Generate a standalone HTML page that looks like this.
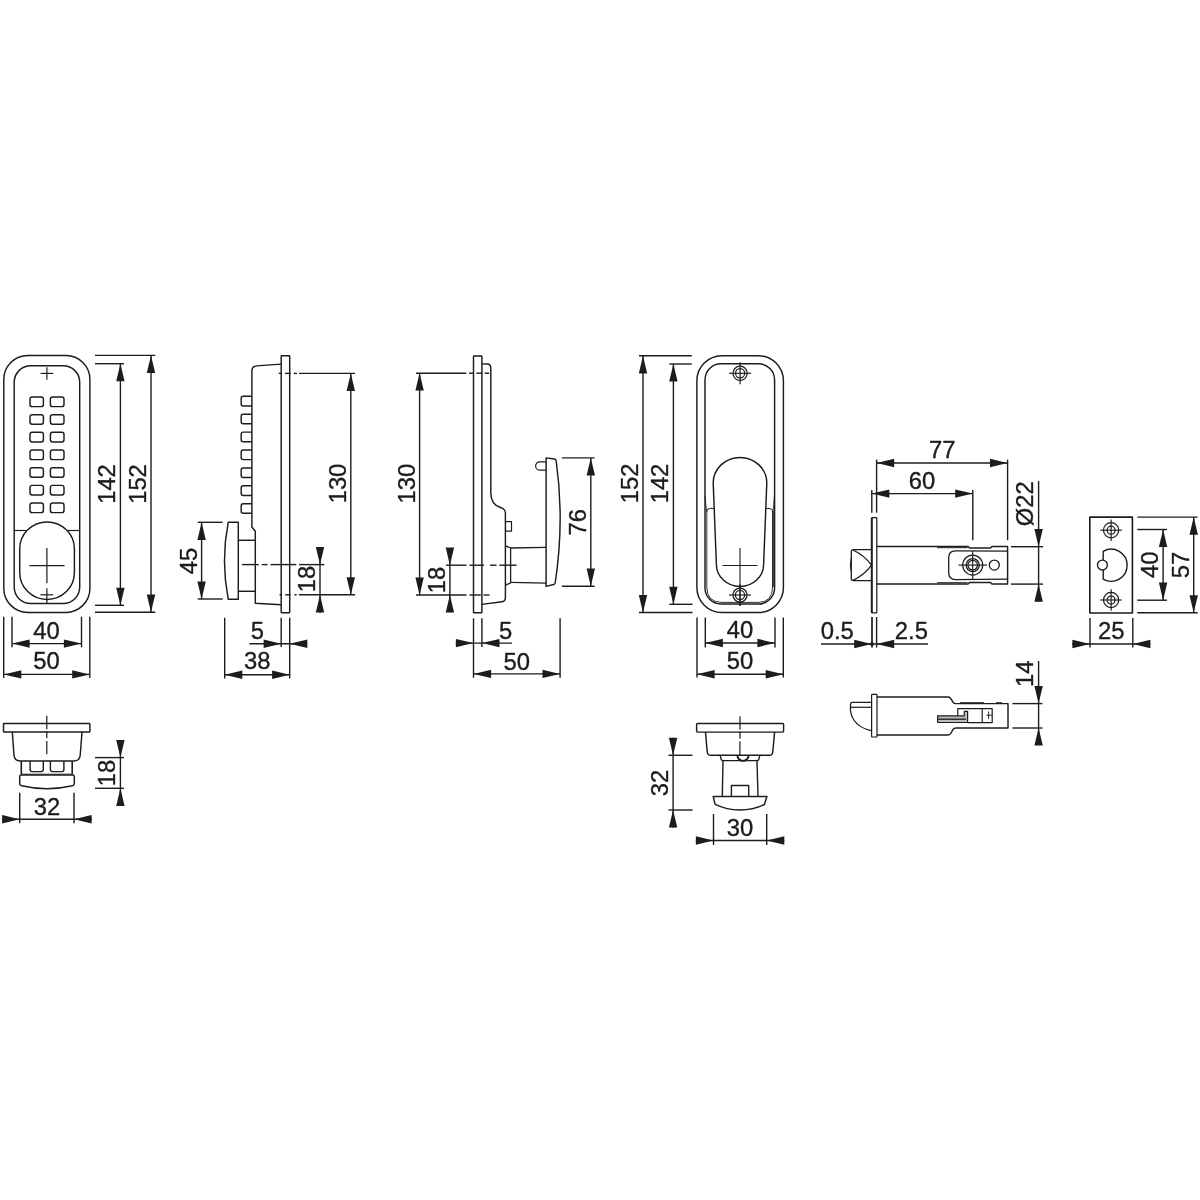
<!DOCTYPE html>
<html><head><meta charset="utf-8"><title>Dimension drawing</title>
<style>
html,body{margin:0;padding:0;background:#fff;}
body{width:1200px;height:1200px;overflow:hidden;}
svg{display:block;will-change:transform;filter:grayscale(1);}
svg text{font-family:"Liberation Sans",sans-serif;fill:#1c1c1c;stroke:#1c1c1c;stroke-width:0.35px;}
</style></head><body>
<svg width="1200" height="1200" viewBox="0 0 1200 1200" fill="none" stroke="#1c1c1c" stroke-linecap="butt" stroke-linejoin="round">
<rect x="0" y="0" width="1200" height="1200" fill="#ffffff" stroke="none"/>
<g id="v1">
<rect x="3.8" y="355.5" width="86.1" height="256.9" rx="24" ry="24" stroke-width="1.45"/>
<rect x="14.2" y="365.8" width="65.5" height="237.7" rx="16.5" ry="16.5" stroke-width="1.45"/>
<line x1="40.6" y1="373.4" x2="53.2" y2="373.4" stroke-width="1.2"/>
<line x1="46.9" y1="367.2" x2="46.9" y2="379.8" stroke-width="1.2"/>
<rect x="30" y="397" width="13.4" height="9.6" rx="2.2" ry="2.2" stroke-width="1.45"/>
<rect x="50.4" y="397" width="13.6" height="9.6" rx="2.2" ry="2.2" stroke-width="1.45"/>
<rect x="30" y="414.67" width="13.4" height="9.6" rx="2.2" ry="2.2" stroke-width="1.45"/>
<rect x="50.4" y="414.67" width="13.6" height="9.6" rx="2.2" ry="2.2" stroke-width="1.45"/>
<rect x="30" y="432.34" width="13.4" height="9.6" rx="2.2" ry="2.2" stroke-width="1.45"/>
<rect x="50.4" y="432.34" width="13.6" height="9.6" rx="2.2" ry="2.2" stroke-width="1.45"/>
<rect x="30" y="450.01" width="13.4" height="9.6" rx="2.2" ry="2.2" stroke-width="1.45"/>
<rect x="50.4" y="450.01" width="13.6" height="9.6" rx="2.2" ry="2.2" stroke-width="1.45"/>
<rect x="30" y="467.68" width="13.4" height="9.6" rx="2.2" ry="2.2" stroke-width="1.45"/>
<rect x="50.4" y="467.68" width="13.6" height="9.6" rx="2.2" ry="2.2" stroke-width="1.45"/>
<rect x="30" y="485.35" width="13.4" height="9.6" rx="2.2" ry="2.2" stroke-width="1.45"/>
<rect x="50.4" y="485.35" width="13.6" height="9.6" rx="2.2" ry="2.2" stroke-width="1.45"/>
<rect x="30" y="503.02" width="13.4" height="9.6" rx="2.2" ry="2.2" stroke-width="1.45"/>
<rect x="50.4" y="503.02" width="13.6" height="9.6" rx="2.2" ry="2.2" stroke-width="1.45"/>
<line x1="14.2" y1="530.5" x2="26.3" y2="530.5" stroke-width="1.2"/>
<line x1="67.6" y1="530.5" x2="79.7" y2="530.5" stroke-width="1.2"/>
<rect x="19.7" y="521.9" width="54.7" height="77.5" rx="27.35" ry="27" stroke-width="1.45"/>
<line x1="29.4" y1="565.6" x2="64.6" y2="565.6" stroke-width="1.2"/>
<line x1="46.9" y1="548" x2="46.9" y2="583.3" stroke-width="1.2"/>
<line x1="46.9" y1="588.3" x2="46.9" y2="603.5" stroke-width="1.2"/>
<line x1="40.4" y1="594.8" x2="53.2" y2="594.8" stroke-width="1.2"/>
<line x1="95" y1="363.7" x2="124" y2="363.7" stroke-width="1.4"/>
<line x1="95" y1="605.3" x2="124" y2="605.3" stroke-width="1.4"/>
<line x1="120.4" y1="363.7" x2="120.4" y2="605.3" stroke-width="1.4"/>
<polygon points="120.4,363.7 116.2,381.3 124.6,381.3" fill="#1c1c1c" stroke="none"/>
<polygon points="120.4,605.3 116.2,587.7 124.6,587.7" fill="#1c1c1c" stroke="none"/>
<text transform="translate(114.9,484) rotate(-90) scale(1.0,1)" font-size="23.8" text-anchor="middle">142</text>
<line x1="95" y1="355.4" x2="155.3" y2="355.4" stroke-width="1.4"/>
<line x1="95" y1="612.2" x2="155.3" y2="612.2" stroke-width="1.4"/>
<line x1="151" y1="355.4" x2="151" y2="612.2" stroke-width="1.4"/>
<polygon points="151,355.4 146.8,373 155.2,373" fill="#1c1c1c" stroke="none"/>
<polygon points="151,612.2 146.8,594.6 155.2,594.6" fill="#1c1c1c" stroke="none"/>
<text transform="translate(145.6,484) rotate(-90) scale(1.0,1)" font-size="23.8" text-anchor="middle">152</text>
<line x1="12" y1="616.7" x2="12" y2="647.3" stroke-width="1.4"/>
<line x1="81.5" y1="616.7" x2="81.5" y2="647.3" stroke-width="1.4"/>
<line x1="12" y1="643.6" x2="81.5" y2="643.6" stroke-width="1.4"/>
<polygon points="12,643.6 29.6,639.4 29.6,647.8" fill="#1c1c1c" stroke="none"/>
<polygon points="81.5,643.6 63.9,639.4 63.9,647.8" fill="#1c1c1c" stroke="none"/>
<text transform="translate(46.5,638.7) scale(1.0,1)" font-size="23.8" text-anchor="middle">40</text>
<line x1="3.7" y1="616.7" x2="3.7" y2="678" stroke-width="1.4"/>
<line x1="89.8" y1="616.7" x2="89.8" y2="678" stroke-width="1.4"/>
<line x1="3.7" y1="674.4" x2="89.8" y2="674.4" stroke-width="1.4"/>
<polygon points="3.7,674.4 21.3,670.2 21.3,678.6" fill="#1c1c1c" stroke="none"/>
<polygon points="89.8,674.4 72.2,670.2 72.2,678.6" fill="#1c1c1c" stroke="none"/>
<text transform="translate(46.6,669.2) scale(1.0,1)" font-size="23.8" text-anchor="middle">50</text>
</g>
<g id="v1b">
<rect x="3.5" y="723.5" width="86.4" height="8.5" rx="0.6" ry="0.6" stroke-width="1.45"/>
<path d="M12.3,732 L14.0,755.3 Q14.5,760.9 20,760.9 L74.3,760.9 Q79.7,760.9 80.2,755.3 L82.0,732" stroke-width="1.45" fill="none"/>
<line x1="46.8" y1="715.8" x2="46.8" y2="729.3" stroke-width="1.2"/>
<line x1="46.8" y1="731.2" x2="46.8" y2="738" stroke-width="1.2"/>
<line x1="46.8" y1="741" x2="46.8" y2="754.2" stroke-width="1.2"/>
<line x1="21.3" y1="761.2" x2="21.3" y2="774.5" stroke-width="1.6"/>
<line x1="72.2" y1="761.2" x2="72.2" y2="774.5" stroke-width="1.6"/>
<path d="M30.1,761.0 L30.1,769.6 Q30.1,771.6 32.1,771.6 L41.3,771.6 Q43.3,771.6 43.3,769.6 L43.3,761.0" stroke-width="1.4" fill="none"/>
<path d="M50.4,761.0 L50.4,769.6 Q50.4,771.6 52.4,771.6 L61.9,771.6 Q63.9,771.6 63.9,769.6 L63.9,761.0" stroke-width="1.4" fill="none"/>
<line x1="21.3" y1="774.2" x2="72.2" y2="774.2" stroke-width="0.9"/>
<path d="M19.7,776.6 Q19.7,774.9 21.4,774.9 L72.6,774.9 Q74.3,774.9 74.3,776.6 L74.3,783.4 Q74.3,785.2 72.4,785.7 A112,112 0 0 1 21.6,785.7 Q19.7,785.2 19.7,783.4 Z" stroke-width="1.45" fill="none"/>
<line x1="19.7" y1="792.7" x2="19.7" y2="823.3" stroke-width="1.4"/>
<line x1="74" y1="792.7" x2="74" y2="823.3" stroke-width="1.4"/>
<line x1="2" y1="819.3" x2="92" y2="819.3" stroke-width="1.4"/>
<polygon points="19.7,819.3 2.1,815.1 2.1,823.5" fill="#1c1c1c" stroke="none"/>
<polygon points="74,819.3 91.6,815.1 91.6,823.5" fill="#1c1c1c" stroke="none"/>
<text transform="translate(47,814.7) scale(1.0,1)" font-size="23.8" text-anchor="middle">32</text>
<line x1="95" y1="757.6" x2="124" y2="757.6" stroke-width="1.4"/>
<line x1="95" y1="788.3" x2="124" y2="788.3" stroke-width="1.4"/>
<line x1="120.4" y1="740.5" x2="120.4" y2="806" stroke-width="1.4"/>
<polygon points="120.4,757.6 116.2,740 124.6,740" fill="#1c1c1c" stroke="none"/>
<polygon points="120.4,788.3 116.2,805.9 124.6,805.9" fill="#1c1c1c" stroke="none"/>
<text transform="translate(114.5,773) rotate(-90) scale(1.0,1)" font-size="23.8" text-anchor="middle">18</text>
</g>
<g id="v2">
<rect x="281.2" y="355.8" width="8.5" height="256.9" rx="0.5" ry="0.5" stroke-width="1.45"/>
<path d="M281.2,364.1 L256.6,365.9 Q251.9,366.3 251.9,371 L251.9,527 L255.3,531.3 L255.3,603.2 L281.2,604.8" stroke-width="1.45" fill="none"/>
<path d="M251.9,396.3 L243.2,396.3 Q241.2,396.3 241.2,398.3 L241.2,403.9 Q241.2,405.9 243.2,405.9 L251.9,405.9" stroke-width="1.45" fill="none"/>
<path d="M251.9,414.2 L243.2,414.2 Q241.2,414.2 241.2,416.2 L241.2,421.8 Q241.2,423.8 243.2,423.8 L251.9,423.8" stroke-width="1.45" fill="none"/>
<path d="M251.9,432.1 L243.2,432.1 Q241.2,432.1 241.2,434.1 L241.2,439.7 Q241.2,441.7 243.2,441.7 L251.9,441.7" stroke-width="1.45" fill="none"/>
<path d="M251.9,450 L243.2,450 Q241.2,450 241.2,452 L241.2,457.6 Q241.2,459.6 243.2,459.6 L251.9,459.6" stroke-width="1.45" fill="none"/>
<path d="M251.9,467.9 L243.2,467.9 Q241.2,467.9 241.2,469.9 L241.2,475.5 Q241.2,477.5 243.2,477.5 L251.9,477.5" stroke-width="1.45" fill="none"/>
<path d="M251.9,485.8 L243.2,485.8 Q241.2,485.8 241.2,487.8 L241.2,493.4 Q241.2,495.4 243.2,495.4 L251.9,495.4" stroke-width="1.45" fill="none"/>
<path d="M251.9,503.7 L243.2,503.7 Q241.2,503.7 241.2,505.7 L241.2,511.3 Q241.2,513.3 243.2,513.3 L251.9,513.3" stroke-width="1.45" fill="none"/>
<path d="M228.2,522.3 L238.3,522.3 L238.3,599.2 L228.2,599.2 Q220.8,560.7 228.2,522.3 Z" stroke-width="1.45" fill="none"/>
<line x1="238.3" y1="540.3" x2="255.3" y2="540.3" stroke-width="1.45"/>
<line x1="238.3" y1="591.3" x2="255.3" y2="591.3" stroke-width="1.45"/>
<line x1="278.7" y1="373.4" x2="282" y2="373.4" stroke-width="1.4"/>
<line x1="285" y1="373.4" x2="290.7" y2="373.4" stroke-width="1.4"/>
<line x1="293.7" y1="373.4" x2="297" y2="373.4" stroke-width="1.4"/>
<line x1="299" y1="373.4" x2="355" y2="373.4" stroke-width="1.4"/>
<line x1="242" y1="564.6" x2="258.8" y2="564.6" stroke-width="1.4"/>
<line x1="261.7" y1="564.6" x2="267.5" y2="564.6" stroke-width="1.4"/>
<line x1="270.5" y1="564.6" x2="296.3" y2="564.6" stroke-width="1.4"/>
<line x1="299" y1="564.6" x2="324.3" y2="564.6" stroke-width="1.4"/>
<line x1="279.5" y1="594.8" x2="282" y2="594.8" stroke-width="1.4"/>
<line x1="285.3" y1="594.8" x2="290.7" y2="594.8" stroke-width="1.4"/>
<line x1="294.3" y1="594.8" x2="296.7" y2="594.8" stroke-width="1.4"/>
<line x1="299" y1="594.8" x2="355" y2="594.8" stroke-width="1.4"/>
<line x1="350.8" y1="373.4" x2="350.8" y2="594.8" stroke-width="1.4"/>
<polygon points="350.8,373.4 346.6,391 355,391" fill="#1c1c1c" stroke="none"/>
<polygon points="350.8,594.8 346.6,577.2 355,577.2" fill="#1c1c1c" stroke="none"/>
<text transform="translate(346.1,483.5) rotate(-90) scale(1.0,1)" font-size="23.8" text-anchor="middle">130</text>
<line x1="197.7" y1="522.3" x2="222.5" y2="522.3" stroke-width="1.4"/>
<line x1="197.7" y1="599" x2="222.7" y2="599" stroke-width="1.4"/>
<line x1="201.6" y1="522.3" x2="201.6" y2="599" stroke-width="1.4"/>
<polygon points="201.6,522.3 197.4,539.9 205.8,539.9" fill="#1c1c1c" stroke="none"/>
<polygon points="201.6,599 197.4,581.4 205.8,581.4" fill="#1c1c1c" stroke="none"/>
<text transform="translate(196.8,560.9) rotate(-90) scale(1.0,1)" font-size="23.8" text-anchor="middle">45</text>
<line x1="320" y1="547" x2="320" y2="612.7" stroke-width="1.4"/>
<polygon points="320,564.6 315.8,547 324.2,547" fill="#1c1c1c" stroke="none"/>
<polygon points="320,594.8 315.8,612.4 324.2,612.4" fill="#1c1c1c" stroke="none"/>
<text transform="translate(314.5,579) rotate(-90) scale(1.0,1)" font-size="23.8" text-anchor="middle">18</text>
<line x1="281.2" y1="617.7" x2="281.2" y2="647" stroke-width="1.4"/>
<line x1="289.7" y1="617.7" x2="289.7" y2="678.5" stroke-width="1.4"/>
<line x1="224.7" y1="617.7" x2="224.7" y2="678.5" stroke-width="1.4"/>
<line x1="249.5" y1="643.7" x2="307.2" y2="643.7" stroke-width="1.4"/>
<polygon points="281.2,643.7 263.6,639.5 263.6,647.9" fill="#1c1c1c" stroke="none"/>
<polygon points="289.7,643.7 307.3,639.5 307.3,647.9" fill="#1c1c1c" stroke="none"/>
<text transform="translate(257.4,638.6) scale(1.0,1)" font-size="23.8" text-anchor="middle">5</text>
<line x1="224.7" y1="674.7" x2="289.7" y2="674.7" stroke-width="1.4"/>
<polygon points="224.7,674.7 242.3,670.5 242.3,678.9" fill="#1c1c1c" stroke="none"/>
<polygon points="289.7,674.7 272.1,670.5 272.1,678.9" fill="#1c1c1c" stroke="none"/>
<text transform="translate(257.2,669.2) scale(1.0,1)" font-size="23.8" text-anchor="middle">38</text>
</g>
<g id="v3">
<rect x="473.5" y="355.9" width="8.4" height="256.8" rx="0.5" ry="0.5" stroke-width="1.45"/>
<path d="M481.9,363.9 L487.3,364 Q490.8,364.1 490.8,368 L490.8,492.5 C490.8,502.5 495.5,505.8 500,507.2 C503.8,508.3 505.4,509.6 505.4,513 L505.4,597.5 Q505.4,601.3 502,601.8 L481.9,604.4" stroke-width="1.45" fill="none"/>
<path d="M505.4,521.7 L511.5,521.7 L511.5,531.1 L505.4,531.1" stroke-width="1.2" fill="none"/>
<path d="M505.4,545.8 L510.6,548 L510.6,583 L505.4,585.1" stroke-width="1.3" fill="none"/>
<line x1="510.6" y1="548" x2="546.1" y2="547.3" stroke-width="1.3"/>
<line x1="510.6" y1="582.3" x2="546.1" y2="583.1" stroke-width="1.3"/>
<path d="M546.1,457.9 L554.3,459 Q556,459.3 556.2,461 Q564.6,521 555.2,583 Q555,584.2 553.8,584.5 L546.1,586.4 Z" stroke-width="1.45" fill="none"/>
<path d="M546.1,461.9 L539.7,461.9 A4.1,4.1 0 0 0 539.7,470.1 L546.1,470.1" stroke-width="1.2" fill="none"/>
<line x1="416" y1="373.2" x2="466.3" y2="373.2" stroke-width="1.4"/>
<line x1="469" y1="373.2" x2="473" y2="373.2" stroke-width="1.4"/>
<line x1="476.3" y1="373.2" x2="482.3" y2="373.2" stroke-width="1.4"/>
<line x1="484.7" y1="373.2" x2="489.2" y2="373.2" stroke-width="1.4"/>
<line x1="445.9" y1="565.2" x2="466.5" y2="565.2" stroke-width="1.4"/>
<line x1="469.5" y1="565.2" x2="484.1" y2="565.2" stroke-width="1.4"/>
<line x1="490" y1="565.2" x2="496.5" y2="565.2" stroke-width="1.4"/>
<line x1="499.3" y1="565.2" x2="516.6" y2="565.2" stroke-width="1.4"/>
<line x1="416" y1="595" x2="466.5" y2="595" stroke-width="1.4"/>
<line x1="469.5" y1="595" x2="480.8" y2="595" stroke-width="1.4"/>
<line x1="483.5" y1="595" x2="489.5" y2="595" stroke-width="1.4"/>
<line x1="419.6" y1="373" x2="419.6" y2="595" stroke-width="1.4"/>
<polygon points="419.6,373 415.4,390.6 423.8,390.6" fill="#1c1c1c" stroke="none"/>
<polygon points="419.6,595 415.4,577.4 423.8,577.4" fill="#1c1c1c" stroke="none"/>
<text transform="translate(414.5,483.7) rotate(-90) scale(1.0,1)" font-size="23.8" text-anchor="middle">130</text>
<line x1="561.9" y1="457.9" x2="594.6" y2="457.9" stroke-width="1.4"/>
<line x1="561.9" y1="586.2" x2="594.6" y2="586.2" stroke-width="1.4"/>
<line x1="590.8" y1="457.9" x2="590.8" y2="586.2" stroke-width="1.4"/>
<polygon points="590.8,457.9 586.6,475.5 595,475.5" fill="#1c1c1c" stroke="none"/>
<polygon points="590.8,586.2 586.6,568.6 595,568.6" fill="#1c1c1c" stroke="none"/>
<text transform="translate(585.8,522.3) rotate(-90) scale(1.0,1)" font-size="23.8" text-anchor="middle">76</text>
<line x1="449.9" y1="547.9" x2="449.9" y2="612.3" stroke-width="1.4"/>
<polygon points="449.9,565.2 445.7,547.6 454.1,547.6" fill="#1c1c1c" stroke="none"/>
<polygon points="449.9,595 445.7,612.6 454.1,612.6" fill="#1c1c1c" stroke="none"/>
<text transform="translate(444.6,579.9) rotate(-90) scale(1.0,1)" font-size="23.8" text-anchor="middle">18</text>
<line x1="473.5" y1="618.3" x2="473.5" y2="677.8" stroke-width="1.4"/>
<line x1="481.9" y1="618.3" x2="481.9" y2="647" stroke-width="1.4"/>
<line x1="560.1" y1="618.3" x2="560.1" y2="677.8" stroke-width="1.4"/>
<line x1="455.7" y1="643.1" x2="512" y2="643.1" stroke-width="1.4"/>
<polygon points="473.5,643.1 455.9,638.9 455.9,647.3" fill="#1c1c1c" stroke="none"/>
<polygon points="481.9,643.1 499.5,638.9 499.5,647.3" fill="#1c1c1c" stroke="none"/>
<text transform="translate(505.6,638.5) scale(1.0,1)" font-size="23.8" text-anchor="middle">5</text>
<line x1="473.5" y1="673.9" x2="560.1" y2="673.9" stroke-width="1.4"/>
<polygon points="473.5,673.9 491.1,669.7 491.1,678.1" fill="#1c1c1c" stroke="none"/>
<polygon points="560.1,673.9 542.5,669.7 542.5,678.1" fill="#1c1c1c" stroke="none"/>
<text transform="translate(516.8,669.5) scale(1.0,1)" font-size="23.8" text-anchor="middle">50</text>
</g>
<g id="v4">
<rect x="696.9" y="355.7" width="86.5" height="256.8" rx="25" ry="25" stroke-width="1.45"/>
<rect x="705" y="363.8" width="69.6" height="240.2" rx="16" ry="16" stroke-width="1.45"/>
<path d="M706.8,511 L706.8,587 Q706.8,602.4 722,602.4 L758,602.4 Q772.6,602.4 772.6,587" stroke-width="0.9" fill="none"/>
<path d="M772.9,587 L772.9,511" stroke-width="1.7" fill="none"/>
<path d="M706.6,511.5 Q707,508.4 710.5,508.4 L714.4,508.4" stroke-width="1" fill="none"/>
<path d="M772.8,511.5 Q772.4,508.4 769,508.4 L765.7,508.4" stroke-width="1" fill="none"/>
<path d="M705.2,496 Q705.6,505 706.7,511.5" stroke-width="0.9" fill="none"/>
<path d="M774.4,496 Q774,505 772.9,511.5" stroke-width="0.9" fill="none"/>
<circle cx="740.1" cy="373.3" r="7.1" stroke-width="1.25"/>
<circle cx="740.1" cy="373.3" r="4.6" stroke-width="1.25"/>
<line x1="729.1" y1="373.3" x2="751.1" y2="373.3" stroke-width="1.15"/>
<line x1="740.1" y1="362.3" x2="740.1" y2="384.3" stroke-width="1.15"/>
<path d="M713.2,483 A26.8,25.6 0 0 1 766.8,483 L763.6,564.5 A23.6,22 0 0 1 716.4,564.5 Z" stroke-width="1.45" fill="none"/>
<line x1="722.5" y1="565.5" x2="757.5" y2="565.5" stroke-width="1.1"/>
<line x1="740" y1="548" x2="740" y2="606" stroke-width="1.1"/>
<circle cx="740" cy="595" r="7" stroke-width="1.25"/>
<circle cx="740" cy="595" r="4.6" stroke-width="1.25"/>
<line x1="729" y1="595" x2="751" y2="595" stroke-width="1.15"/>
<line x1="740" y1="584" x2="740" y2="606" stroke-width="1.15"/>
<line x1="639" y1="355.8" x2="691.8" y2="355.8" stroke-width="1.4"/>
<line x1="639" y1="612.5" x2="692.5" y2="612.5" stroke-width="1.4"/>
<line x1="643" y1="355.8" x2="643" y2="612.5" stroke-width="1.4"/>
<polygon points="643,355.8 638.8,373.4 647.2,373.4" fill="#1c1c1c" stroke="none"/>
<polygon points="643,612.5 638.8,594.9 647.2,594.9" fill="#1c1c1c" stroke="none"/>
<text transform="translate(637.6,483.3) rotate(-90) scale(1.0,1)" font-size="23.8" text-anchor="middle">152</text>
<line x1="669.5" y1="364" x2="691.8" y2="364" stroke-width="1.4"/>
<line x1="669.5" y1="604.3" x2="692.5" y2="604.3" stroke-width="1.4"/>
<line x1="673.4" y1="364" x2="673.4" y2="604.3" stroke-width="1.4"/>
<polygon points="673.4,364 669.2,381.6 677.6,381.6" fill="#1c1c1c" stroke="none"/>
<polygon points="673.4,604.3 669.2,586.7 677.6,586.7" fill="#1c1c1c" stroke="none"/>
<text transform="translate(668,483.5) rotate(-90) scale(1.0,1)" font-size="23.8" text-anchor="middle">142</text>
<line x1="705.3" y1="617.5" x2="705.3" y2="647.5" stroke-width="1.4"/>
<line x1="775" y1="617.5" x2="775" y2="647.5" stroke-width="1.4"/>
<line x1="705.3" y1="643" x2="775" y2="643" stroke-width="1.4"/>
<polygon points="705.3,643 722.9,638.8 722.9,647.2" fill="#1c1c1c" stroke="none"/>
<polygon points="775,643 757.4,638.8 757.4,647.2" fill="#1c1c1c" stroke="none"/>
<text transform="translate(739.9,638.3) scale(1.0,1)" font-size="23.8" text-anchor="middle">40</text>
<line x1="697" y1="617.5" x2="697" y2="677.5" stroke-width="1.4"/>
<line x1="783.3" y1="617.5" x2="783.3" y2="677.5" stroke-width="1.4"/>
<line x1="697" y1="674.2" x2="783.3" y2="674.2" stroke-width="1.4"/>
<polygon points="697,674.2 714.6,670 714.6,678.4" fill="#1c1c1c" stroke="none"/>
<polygon points="783.3,674.2 765.7,670 765.7,678.4" fill="#1c1c1c" stroke="none"/>
<text transform="translate(740,668.9) scale(1.0,1)" font-size="23.8" text-anchor="middle">50</text>
</g>
<g id="v4b">
<rect x="696.6" y="723.5" width="87" height="8.6" rx="1" ry="1" stroke-width="1.45"/>
<path d="M705.5,732 L707.2,751.7 Q707.5,755.3 711,755.3 L769.2,755.3 Q772.5,755.3 772.8,751.7 L774.6,732" stroke-width="1.45" fill="none"/>
<line x1="740" y1="716.2" x2="740" y2="729.6" stroke-width="1.2"/>
<line x1="740" y1="731.5" x2="740" y2="738.7" stroke-width="1.2"/>
<line x1="739.9" y1="741.2" x2="739.9" y2="755.3" stroke-width="1.2"/>
<path d="M720.3,755.3 Q720.9,760.6 723,760.6 L757,760.6 Q759.1,760.6 759.7,755.3" stroke-width="1.4" fill="none"/>
<path d="M737.4,755.3 A5.6,5.6 0 0 0 748.6,755.3" stroke-width="1.9" fill="none"/>
<line x1="723" y1="760.7" x2="722.3" y2="796.4" stroke-width="1.4"/>
<line x1="757" y1="760.7" x2="758" y2="796.4" stroke-width="1.4"/>
<path d="M731.4,796.4 L731.4,785.5 L748.7,785.5 L748.7,796.4" stroke-width="1.4" fill="none"/>
<path d="M713.2,796.5 L766.9,796.5 L764.4,804.5 A57.5,57.5 0 0 1 715.1,804.3 Z" stroke-width="1.45" fill="none"/>
<line x1="668.5" y1="755.3" x2="692.5" y2="755.3" stroke-width="1.4"/>
<line x1="668.5" y1="810" x2="692.5" y2="810" stroke-width="1.4"/>
<line x1="673.1" y1="737.8" x2="673.1" y2="827.8" stroke-width="1.4"/>
<polygon points="673.1,755.3 668.9,737.7 677.3,737.7" fill="#1c1c1c" stroke="none"/>
<polygon points="673.1,810 668.9,827.6 677.3,827.6" fill="#1c1c1c" stroke="none"/>
<text transform="translate(667.6,783) rotate(-90) scale(1.0,1)" font-size="23.8" text-anchor="middle">32</text>
<line x1="713.5" y1="814" x2="713.5" y2="845" stroke-width="1.4"/>
<line x1="766.7" y1="814" x2="766.7" y2="845" stroke-width="1.4"/>
<line x1="695.8" y1="840.5" x2="784.2" y2="840.5" stroke-width="1.4"/>
<polygon points="713.5,840.5 695.9,836.3 695.9,844.7" fill="#1c1c1c" stroke="none"/>
<polygon points="766.7,840.5 784.3,836.3 784.3,844.7" fill="#1c1c1c" stroke="none"/>
<text transform="translate(740.1,836.2) scale(1.0,1)" font-size="23.8" text-anchor="middle">30</text>
</g>
<g id="v5">
<rect x="871.9" y="517.6" width="4.9" height="95.3" rx="0.3" ry="0.3" stroke-width="1.2"/>
<line x1="871.7" y1="517.6" x2="871.7" y2="612.9" stroke-width="1.8"/>
<line x1="871.8" y1="490" x2="871.8" y2="512.7" stroke-width="1.4"/>
<line x1="876.6" y1="459.6" x2="876.6" y2="512.7" stroke-width="1.4"/>
<line x1="872" y1="617" x2="872" y2="647.5" stroke-width="1.7"/>
<line x1="876.6" y1="617" x2="876.6" y2="647.5" stroke-width="1.4"/>
<circle cx="872" cy="644" r="1.9" fill="#1c1c1c" stroke="none"/>
<path d="M876.8,546.4 L968,546.4 L969.5,547.9 L990.5,547.9 L992,546.4 L1007.6,546.4 L1007.6,584.0 L992,584.0 L990.5,582.5 L969.5,582.5 L968,584.0 L876.8,584.0" stroke-width="1.45" fill="none"/>
<line x1="937.2" y1="547.7" x2="967.5" y2="547.7" stroke-width="1"/>
<line x1="937.2" y1="582.7" x2="967.5" y2="582.7" stroke-width="1"/>
<path d="M871.8,549.6 L853.3,549.6 Q851.3,549.6 851.3,551.6 L851.3,578.6 Q851.3,580.6 853.3,580.6 L871.8,580.6" stroke-width="1.3" fill="none"/>
<path d="M853,550 Q864.5,555.5 871.5,565.1 Q864.5,574.8 853,580.3" stroke-width="1.3" fill="none"/>
<path d="M851.2,558.5 Q849.6,565 851.2,571.5" stroke-width="1" fill="none"/>
<path d="M1007.6,551.2 L955.5,550.8 Q948.7,550.8 948.7,557.6 L948.7,572.8 Q948.7,579.6 955.5,579.6 L1007.6,579.2" stroke-width="1.3" fill="none"/>
<circle cx="972.7" cy="565.1" r="10" stroke-width="1.25"/>
<circle cx="972.7" cy="565.1" r="6.6" stroke-width="1.25"/>
<line x1="958.5" y1="565.1" x2="986.9" y2="565.1" stroke-width="1.15"/>
<line x1="972.7" y1="550.9" x2="972.7" y2="579.3" stroke-width="1.15"/>
<circle cx="972.7" cy="565.1" r="4.8" stroke-width="1.2"/>
<circle cx="994.3" cy="565.1" r="5" stroke-width="1.3"/>
<line x1="1011" y1="546.7" x2="1043" y2="546.7" stroke-width="1.4"/>
<line x1="1011" y1="584.1" x2="1043" y2="584.1" stroke-width="1.4"/>
<line x1="1007.6" y1="459.6" x2="1007.6" y2="540.2" stroke-width="1.4"/>
<line x1="876.6" y1="463" x2="1007.6" y2="463" stroke-width="1.4"/>
<polygon points="876.6,463 894.2,458.8 894.2,467.2" fill="#1c1c1c" stroke="none"/>
<polygon points="1007.6,463 990,458.8 990,467.2" fill="#1c1c1c" stroke="none"/>
<text transform="translate(942.2,458.4) scale(1.0,1)" font-size="23.8" text-anchor="middle">77</text>
<line x1="972.8" y1="490" x2="972.8" y2="540.2" stroke-width="1.4"/>
<line x1="871.8" y1="493.6" x2="972.8" y2="493.6" stroke-width="1.4"/>
<polygon points="871.8,493.6 889.4,489.4 889.4,497.8" fill="#1c1c1c" stroke="none"/>
<polygon points="972.8,493.6 955.2,489.4 955.2,497.8" fill="#1c1c1c" stroke="none"/>
<text transform="translate(922,488.7) scale(1.0,1)" font-size="23.8" text-anchor="middle">60</text>
<line x1="1038.6" y1="481" x2="1038.6" y2="601.6" stroke-width="1.4"/>
<polygon points="1038.6,546.7 1034.4,529.1 1042.8,529.1" fill="#1c1c1c" stroke="none"/>
<polygon points="1038.6,584.1 1034.4,601.7 1042.8,601.7" fill="#1c1c1c" stroke="none"/>
<text transform="translate(1033,503.8) rotate(-90) scale(1.0,1)" font-size="23.8" text-anchor="middle">&#216;22</text>
<line x1="821" y1="644" x2="928" y2="644" stroke-width="1.4"/>
<polygon points="871.8,644 854.2,639.8 854.2,648.2" fill="#1c1c1c" stroke="none"/>
<polygon points="876.6,644 894.2,639.8 894.2,648.2" fill="#1c1c1c" stroke="none"/>
<text transform="translate(837.3,639) scale(1.0,1)" font-size="23.8" text-anchor="middle">0.5</text>
<text transform="translate(911.4,639) scale(1.0,1)" font-size="23.8" text-anchor="middle">2.5</text>
</g>
<g id="v5b">
<rect x="871.6" y="694.4" width="5.4" height="42.6" rx="0.5" ry="0.5" stroke-width="1.2"/>
<path d="M877,697 L948,697 Q950,697 951,699 L953.2,702.4 Q954,703.6 956,703.6 L1008,703.6 L1008,728 L956,728 Q954,728 953.2,729.2 L951,733 Q950,735 948,735 L877,735" stroke-width="1.45" fill="none"/>
<line x1="960" y1="702.7" x2="984" y2="702.7" stroke-width="1"/>
<line x1="996" y1="702.7" x2="1002" y2="702.7" stroke-width="1"/>
<path d="M871.4,702.3 L852.3,702.3 Q850.5,702.3 850.5,704.3 L850.5,711 Q853,726.5 871.4,730.6" stroke-width="1.3" fill="none"/>
<line x1="850.7" y1="707.3" x2="871.4" y2="707.3" stroke-width="1.2"/>
<path d="M957.8,715.5 L957.8,708.7 L992.2,708.7 L992.2,722.6 L967.6,722.6" stroke-width="1.2" fill="none"/>
<path d="M937.6,715.8 L964.3,715.8 L964.3,711.3 L967.6,711.3 L967.6,722.5 L937.6,722.5 Z" stroke-width="1.2" fill="#bdbdbd"/>
<line x1="938" y1="719.2" x2="966" y2="719.2" stroke-width="1.3"/>
<line x1="982.2" y1="708.7" x2="982.2" y2="722.6" stroke-width="1.2"/>
<line x1="988.6" y1="711.5" x2="988.6" y2="719" stroke-width="0.9"/>
<line x1="986.5" y1="715.2" x2="992.2" y2="715.2" stroke-width="1"/>
<line x1="1012.4" y1="703.6" x2="1042.4" y2="703.6" stroke-width="1.4"/>
<line x1="1012.4" y1="728" x2="1042.4" y2="728" stroke-width="1.4"/>
<line x1="1038.6" y1="661" x2="1038.6" y2="745.2" stroke-width="1.4"/>
<polygon points="1038.6,703.6 1034.4,686 1042.8,686" fill="#1c1c1c" stroke="none"/>
<polygon points="1038.6,728 1034.4,745.6 1042.8,745.6" fill="#1c1c1c" stroke="none"/>
<text transform="translate(1033,673.7) rotate(-90) scale(1.0,1)" font-size="23.8" text-anchor="middle">14</text>
</g>
<g id="v6">
<rect x="1089.8" y="517.1" width="42.6" height="95.9" rx="0.3" ry="0.3" stroke-width="1.6"/>
<circle cx="1111.1" cy="530.2" r="7.6" stroke-width="1.25"/>
<circle cx="1111.1" cy="530.2" r="4" stroke-width="1.25"/>
<line x1="1100.3" y1="530.2" x2="1121.9" y2="530.2" stroke-width="1.15"/>
<line x1="1111.1" y1="519.4" x2="1111.1" y2="541" stroke-width="1.15"/>
<circle cx="1111.1" cy="600" r="7.6" stroke-width="1.25"/>
<circle cx="1111.1" cy="600" r="4" stroke-width="1.25"/>
<line x1="1100.3" y1="600" x2="1121.9" y2="600" stroke-width="1.15"/>
<line x1="1111.1" y1="589.2" x2="1111.1" y2="610.8" stroke-width="1.15"/>
<path d="M1103.2,560.2 L1103.2,551.3 A16,16 0 1 1 1103.2,579.1 L1103.2,570.2" stroke-width="1.4" fill="none"/>
<circle cx="1102.4" cy="565.1" r="4.95" stroke-width="1.4"/>
<line x1="1137.3" y1="529.5" x2="1167" y2="529.5" stroke-width="1.4"/>
<line x1="1137.3" y1="600.2" x2="1167" y2="600.2" stroke-width="1.4"/>
<line x1="1163.1" y1="529.5" x2="1163.1" y2="600.2" stroke-width="1.4"/>
<polygon points="1163.1,529.5 1158.9,547.1 1167.3,547.1" fill="#1c1c1c" stroke="none"/>
<polygon points="1163.1,600.2 1158.9,582.6 1167.3,582.6" fill="#1c1c1c" stroke="none"/>
<text transform="translate(1158.1,564.8) rotate(-90) scale(1.0,1)" font-size="23.8" text-anchor="middle">40</text>
<line x1="1137.3" y1="517.1" x2="1197.6" y2="517.1" stroke-width="1.4"/>
<line x1="1137.3" y1="612.8" x2="1197.6" y2="612.8" stroke-width="1.4"/>
<line x1="1193.7" y1="517.1" x2="1193.7" y2="612.8" stroke-width="1.4"/>
<polygon points="1193.7,517.1 1189.5,534.7 1197.9,534.7" fill="#1c1c1c" stroke="none"/>
<polygon points="1193.7,612.8 1189.5,595.2 1197.9,595.2" fill="#1c1c1c" stroke="none"/>
<text transform="translate(1188.5,565.1) rotate(-90) scale(1.0,1)" font-size="23.8" text-anchor="middle">57</text>
<line x1="1090" y1="618" x2="1090" y2="647.5" stroke-width="1.4"/>
<line x1="1132.8" y1="618" x2="1132.8" y2="647.5" stroke-width="1.4"/>
<line x1="1072.2" y1="644" x2="1150.4" y2="644" stroke-width="1.4"/>
<polygon points="1090,644 1072.4,639.8 1072.4,648.2" fill="#1c1c1c" stroke="none"/>
<polygon points="1132.8,644 1150.4,639.8 1150.4,648.2" fill="#1c1c1c" stroke="none"/>
<text transform="translate(1111.3,639.1) scale(1.0,1)" font-size="23.8" text-anchor="middle">25</text>
</g>
</svg>
</body></html>
